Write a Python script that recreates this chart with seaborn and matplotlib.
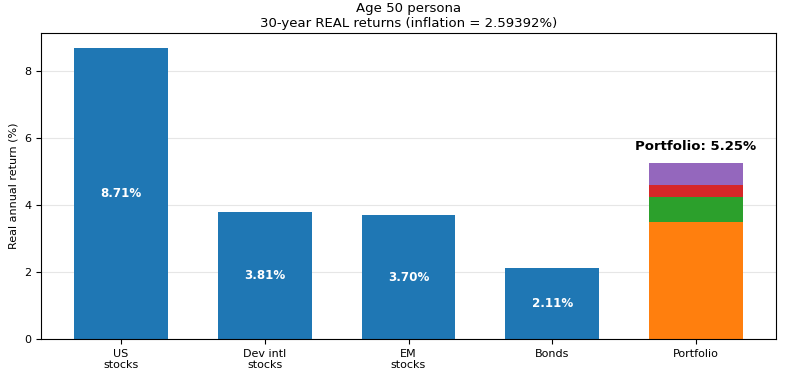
import matplotlib
matplotlib.use("Agg")
import matplotlib.pyplot as plt
import seaborn as sns
import pandas as pd

categories = ["US\nstocks", "Dev intl\nstocks", "EM\nstocks", "Bonds", "Portfolio"]
asset_returns = [8.71, 3.81, 3.70, 2.11]
weights = [0.40, 0.20, 0.10, 0.30]
segment_colors = ["#ff7f0e", "#2ca02c", "#d62728", "#9467bd"]
portfolio_total = 5.25

sns.set_style("ticks", {"text.color": "black", "axes.labelcolor": "black",
                        "xtick.color": "black", "ytick.color": "black"})
plt.rcParams["font.family"] = ["DejaVu Sans"]

fig = plt.figure(figsize=(8.01, 3.68), dpi=100)
ax = fig.add_axes([41/801, 29/368, (776-41)/801, (339-33)/368])

df = pd.DataFrame({"asset": categories[:4], "ret": asset_returns})
sns.barplot(data=df, x="asset", y="ret", order=categories, color="#1f77b4",
            saturation=1, width=0.65, ax=ax, zorder=2, edgecolor="none", linewidth=0)

# stacked portfolio
bottom = 0.0
for r, w, c in zip(asset_returns, weights, segment_colors):
    contrib = r * w
    ax.bar(4, contrib, bottom=bottom, width=0.65, color=c, zorder=2,
           edgecolor="none", linewidth=0)
    bottom += contrib

for i, v in enumerate(asset_returns):
    ax.text(i, v / 2, f"{v:.2f}%", ha="center", va="center", color="white",
            fontsize=8.6, fontweight="bold", zorder=3)
ax.text(4, portfolio_total + 0.32, f"Portfolio: {portfolio_total:.2f}%", ha="center",
        va="bottom", fontsize=9.5, fontweight="bold", color="black", zorder=3)

ax.set_xlim(-0.5575, 4.5575)
ax.set_ylim(0, 9.15)
ax.set_yticks([0, 2, 4, 6, 8])
ax.yaxis.grid(True, color="#e6e6e6", linewidth=0.8, zorder=0)
ax.set_axisbelow(True)
ax.set_xlabel("")
ax.set_ylabel("Real annual return (%)", fontsize=8, color="black")
ax.tick_params(axis="both", labelsize=8, colors="black")
for s in ax.spines.values():
    s.set_visible(True)
    s.set_linewidth(0.8)
    s.set_color("black")
ax.set_title("Age 50 persona\n30-year REAL returns (inflation = 2.59392%)", fontsize=9.5,
             pad=4, color="black")

fig.savefig("out.png", dpi=100)
